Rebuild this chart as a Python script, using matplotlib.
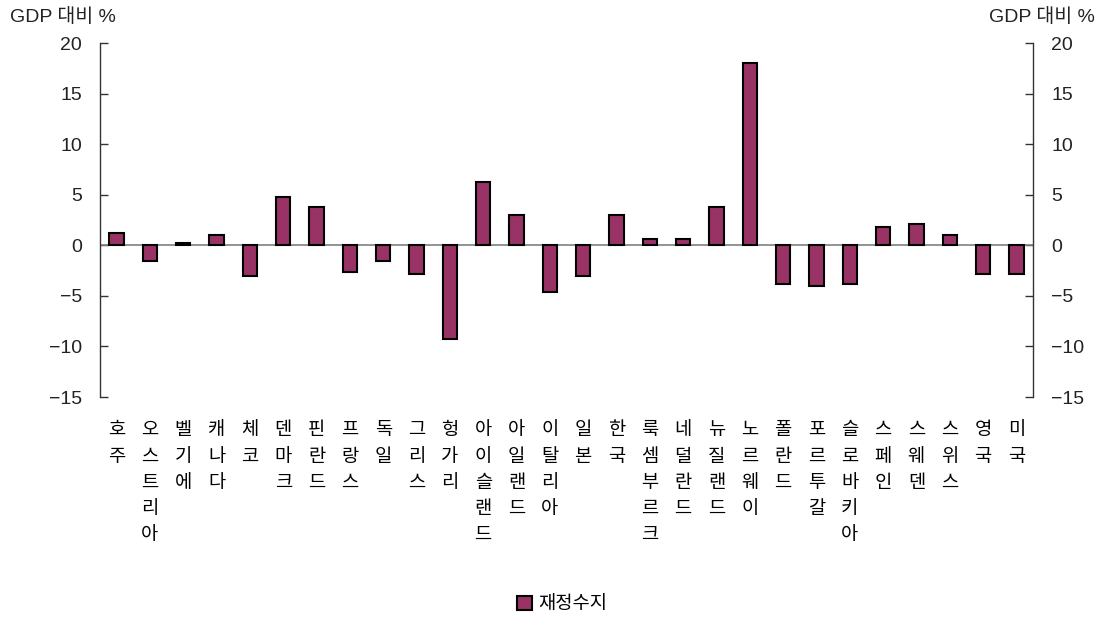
import matplotlib
matplotlib.use('Agg')
import matplotlib.pyplot as plt
from matplotlib.patches import Patch

plt.rcParams['font.family'] = ['Noto Sans CJK KR', 'DejaVu Sans']
plt.rcParams['axes.unicode_minus'] = True

# data (GDP 대비 %)
countries = ['호주', '오스트리아', '벨기에', '캐나다', '체코', '덴마크', '핀란드', '프랑스',
             '독일', '그리스', '헝가리', '아이슬랜드', '아일랜드', '이탈리아', '일본', '한국',
             '룩셈부르크', '네덜란드', '뉴질랜드', '노르웨이', '폴란드', '포르투갈',
             '슬로바키아', '스페인', '스웨덴', '스위스', '영국', '미국']
balance = [1.2, -1.6, 0.2, 1.0, -3.0, 4.8, 3.8, -2.6,
           -1.6, -2.8, -9.3, 6.3, 3.0, -4.6, -3.0, 3.0,
           0.6, 0.6, 3.8, 18.0, -3.8, -4.0,
           -3.8, 1.8, 2.1, 1.0, -2.8, -2.8]
series_name = '재정수지'
yticks = [-15, -10, -5, 0, 5, 10, 15, 20]

bar_color = '#993366'
num_font = ['Liberation Sans', 'Noto Sans CJK KR']

fig = plt.figure(figsize=(11.02, 6.19), dpi=100)
ax = fig.add_axes([100 / 1102, 222 / 619, 933 / 1102, 354 / 619])

x = range(len(countries))
ax.bar(x, balance, width=0.43, color=bar_color, edgecolor='black', linewidth=1.5, zorder=3)
ax.axhline(0, color='#808080', linewidth=1.2, zorder=2)

ax.set_xlim(-0.5, len(countries) - 0.5)
ax.set_ylim(-15, 20)
ax.set_yticks(yticks)
ax.set_yticklabels([str(v).replace('-', '\u2212') for v in yticks])

for side in ['top', 'bottom']:
    ax.spines[side].set_visible(False)
for side in ['left', 'right']:
    ax.spines[side].set_color('#333333')
    ax.spines[side].set_linewidth(1.0)

ax.tick_params(axis='y', direction='in', length=6, width=1, color='#333333',
               labelsize=14, left=True, right=True, labelleft=True, labelright=True, pad=13)
for t in ax.yaxis.get_major_ticks():
    t.label1.set_family(num_font)
    t.label2.set_family(num_font)
    t.label1.set_color('#222222')
    t.label2.set_color('#222222')
ax.tick_params(axis='x', length=0, pad=16)
ax.set_xticks(list(x))
ax.set_xticklabels(['\n'.join(c) for c in countries], fontsize=13.5, linespacing=1.33,
                   va='top')

fig.text(10 / 1102, 1 - 17 / 619, 'GDP 대비 %', fontsize=14, ha='left', va='center',
         family=num_font, color='#222222')
fig.text(1095 / 1102, 1 - 17 / 619, 'GDP 대비 %', fontsize=14, ha='right', va='center',
         family=num_font, color='#222222')

handle = Patch(facecolor=bar_color, edgecolor='black', linewidth=1.5)
fig.legend([handle], [series_name], loc='center', bbox_to_anchor=(562 / 1102, 1 - 604 / 619),
           frameon=False, fontsize=13.5, handlelength=0.8, handleheight=0.8, handletextpad=0.3)

fig.savefig('out.png', dpi=100)
